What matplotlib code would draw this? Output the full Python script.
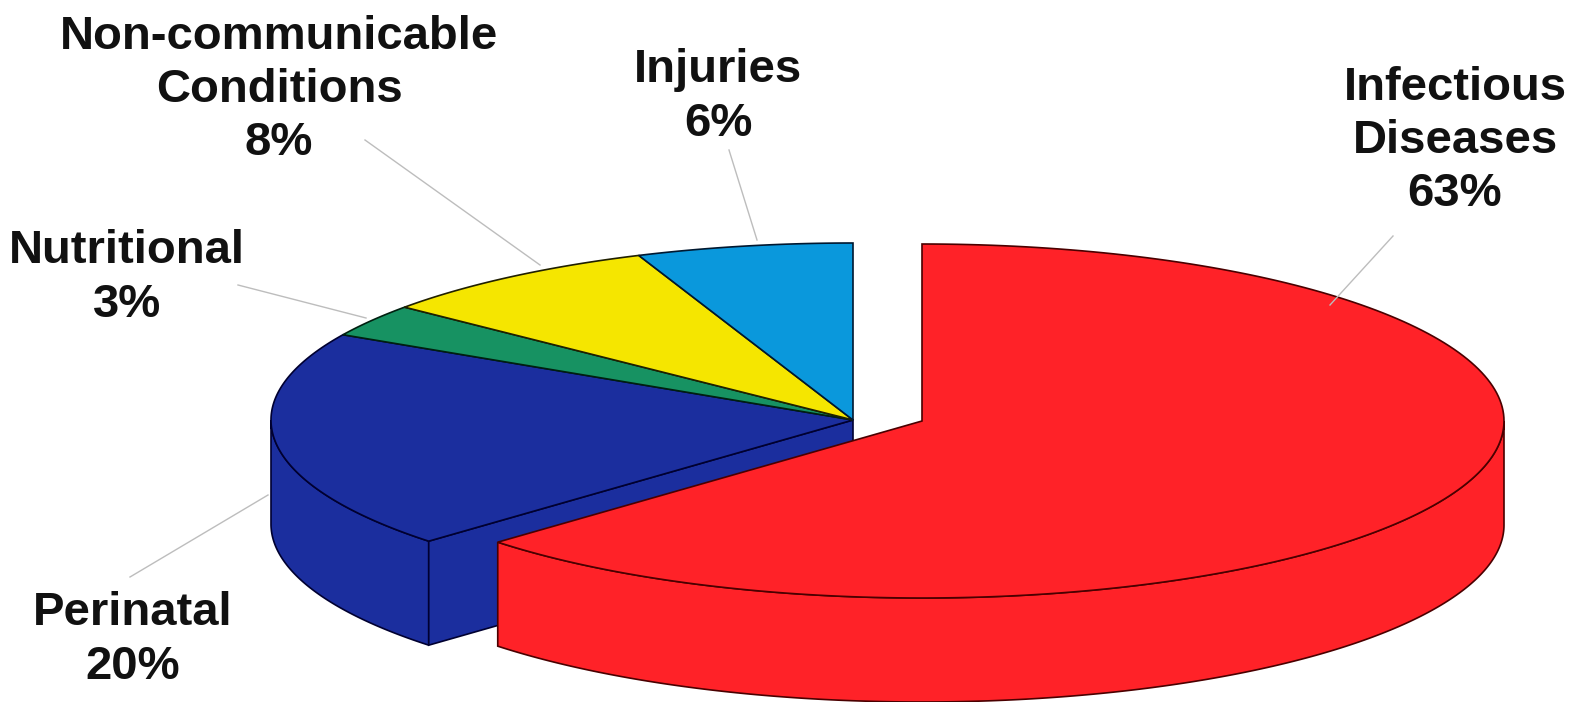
import numpy as np
import matplotlib.pyplot as plt
from matplotlib.patches import Polygon

# slices, listed clockwise from 12 o'clock
labels = ['Infectious\nDiseases', 'Perinatal', 'Nutritional',
          'Non-communicable\nConditions', 'Injuries']
shares = [63, 20, 3, 8, 6]
colors = ['#FF2228', '#1B2E9E', '#179262', '#F5E600', '#0A98DC']
edges = ['#4a0000', '#000030', '#002010', '#202000', '#001830']

# label placement (pixel space) and leader lines
label_xy = [(1455, 141), (133, 640), (127, 278), (279, 90), (718, 97)]
leaders = [[(1393, 236), (1330, 305)],
           [(130, 577), (268, 495)],
           [(238, 285), (366, 318)],
           [(365, 140), (540, 265)],
           [(729, 150), (757, 240)]]

W, H = 1579, 702
a, b, depth = 582, 177, 104        # ellipse half-axes, pie thickness
center = np.array([853.0, 420.0])
explode = np.array([69.0, 1.0])    # offset of the first slice

fig = plt.figure(figsize=(W / 100, H / 100), dpi=100)
ax = fig.add_axes([0, 0, 1, 1])
ax.set_xlim(0, W)
ax.set_ylim(H, 0)
ax.axis('off')


def rim(c, t0, t1, n=200):
    t = np.radians(np.linspace(t0, t1, n))
    return np.column_stack([c[0] + a * np.sin(t), c[1] - b * np.cos(t)])


down = np.array([0, depth])
angles = np.concatenate([[0], np.cumsum(shares) / sum(shares) * 360])

walls, tops = [], []
for i, (c_, e_) in enumerate(zip(colors, edges)):
    t0, t1 = angles[i], angles[i + 1]
    c = center + explode if i == 0 else center
    # front wall (the part facing the viewer, 90..270 deg)
    w0, w1 = max(t0, 90), min(t1, 270)
    if w1 > w0:
        arc = rim(c, w0, w1)
        walls.append(Polygon(np.vstack([arc, arc[::-1] + down]),
                             fc=c_, ec=e_, lw=1.2, zorder=1 + 3 * (i == 0)))
    # cut face left open by the exploded slice
    if i == 1:
        p = rim(c, t0, t0, 1)[0]
        walls.append(Polygon([c, p, p + down, c + down],
                             fc=c_, ec=e_, lw=1.2, zorder=1))
    arc = rim(c, t0, t1)
    tops.append(Polygon(np.vstack([[c], arc]), fc=c_, ec=e_, lw=1.2,
                        zorder=2 + 3 * (i == 0)))

for p in walls + tops:
    ax.add_patch(p)

for lab, s, (x, y), ln in zip(labels, shares, label_xy, leaders):
    ln = np.array(ln)
    ax.plot(ln[:, 0], ln[:, 1], color='#bdbdbd', lw=1.0, zorder=6)
    ax.text(x, y, f'{lab}\n{s}%', ha='center', va='center',
            family='Liberation Sans', weight='bold', fontsize=34,
            linespacing=1.27, color='#111111', zorder=7)

fig.savefig('out.png', dpi=100)
